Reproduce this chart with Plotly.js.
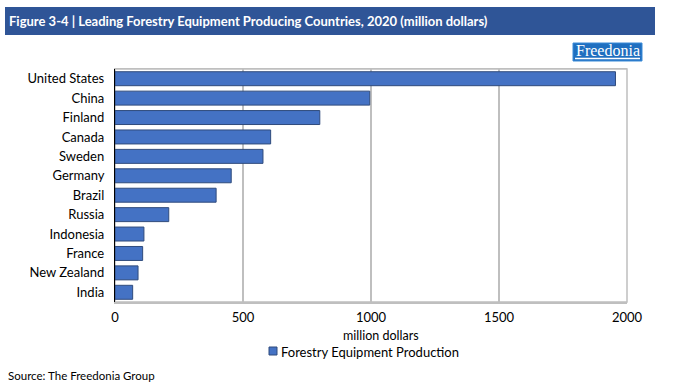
<!DOCTYPE html>
<html>
<head>
<meta charset="utf-8">
<script src="https://cdn.plot.ly/plotly-3.0.1.min.js"></script>
<style>
html,body{margin:0;padding:0;background:#fff;}
#chart{width:695px;height:385px;}
</style>
</head>
<body>
<div id="chart"></div>
<script>
const countries = ["United States","China","Finland","Canada","Sweden","Germany","Brazil","Russia","Indonesia","France","New Zealand","India"];
const production = [1955, 995, 800, 608, 578, 454, 395, 210, 113, 108, 90, 69];
const xTicks = [0, 500, 1000, 1500, 2000];
const seriesName = "Forestry Equipment Production";
const titleText = "Figure 3-4 | Leading Forestry Equipment Producing Countries, 2020 (million dollars)";
const axisTitle = "million dollars";
const sourceText = "Source: The Freedonia Group";

const FONT = "Lato, 'Open Sans', sans-serif";

const trace = {
  type: "bar",
  orientation: "h",
  y: countries,
  x: production,
  name: seriesName,
  marker: {color: "#4472C4", line: {color: "#2F4B7C", width: 1}},
  showlegend: false,
  hoverinfo: "x+y"
};

const layout = {
  width: 695, height: 385,
  margin: {l: 115, r: 68, t: 69, b: 83},
  paper_bgcolor: "#fff", plot_bgcolor: "#fff",
  bargap: 0.28,
  font: {family: FONT, size: 13, color: "#000"},
  xaxis: {
    range: [0, 2000], tickvals: xTicks, ticktext: xTicks.map(String),
    showgrid: true, gridcolor: "#BFBFBF", gridwidth: 1.5,
    zeroline: false, showline: true, linecolor: "#BFBFBF", linewidth: 1.5, mirror: true,
    ticks: "", ticklen: 0, ticklabelstandoff: 3,
    tickfont: {family: FONT, size: 13, color: "#000"},
    fixedrange: true
  },
  yaxis: {
    autorange: "reversed", showgrid: false, zeroline: false,
    showline: true, linecolor: "#000", linewidth: 1.5,
    ticks: "", ticksuffix: "  ", tickfont: {family: FONT, size: 13, color: "#000"},
    fixedrange: true
  },
  shapes: [
    {type: "rect", xref: "paper", yref: "paper", x0: 0, x1: 1, y0: 0, y1: 1,
     line: {color: "#BFBFBF", width: 1.5}, fillcolor: "rgba(0,0,0,0)", layer: "below"},
    // title banner
    {type: "rect", xref: "paper", yref: "paper",
     x0: -110/512, x1: 540/512, y0: 1 + 34/233, y1: 1 + 62/233,
     fillcolor: "#2F5597", line: {width: 0}},
    // logo
    {type: "rect", xref: "paper", yref: "paper",
     x0: 458/512, x1: 527/512, y0: 1 + 8/233, y1: 1 + 26/233,
     fillcolor: "#1F6FC0", line: {color: "#3A8BD8", width: 1}},
    {type: "line", xref: "paper", yref: "paper",
     x0: 460/512, x1: 525/512, y0: 1 + 10.5/233, y1: 1 + 10.5/233,
     line: {color: "#fff", width: 1.5}},
    // legend swatch
    {type: "rect", xref: "paper", yref: "paper",
     x0: 154/512, x1: 162/512, y0: -53/233, y1: -45/233,
     fillcolor: "#4472C4", line: {color: "#2F4B7C", width: 1}}
  ],
  annotations: [
    {xref: "paper", yref: "paper", x: -108/512, y: 1 + 48/233, xanchor: "left", yanchor: "middle",
     text: "<b>" + titleText + "</b>", showarrow: false,
     font: {family: FONT, size: 13, color: "#fff"}},
    {xref: "paper", yref: "paper", x: 492.5/512, y: 1 + 18.5/233, xanchor: "center", yanchor: "middle",
     text: "Freedonia", showarrow: false,
     font: {family: "'Liberation Serif', 'DejaVu Serif', serif", size: 16, color: "#fff"}},
    {xref: "paper", yref: "paper", x: 266/512, y: -33/233, xanchor: "center", yanchor: "middle",
     text: axisTitle, showarrow: false, font: {family: FONT, size: 12.5, color: "#000"}},
    {xref: "paper", yref: "paper", x: 164/512, y: -49.5/233, xanchor: "left", yanchor: "middle",
     text: seriesName, showarrow: false, font: {family: FONT, size: 13, color: "#000"}},
    {xref: "paper", yref: "paper", x: -109/512, y: -73/233, xanchor: "left", yanchor: "middle",
     text: sourceText, showarrow: false, font: {family: FONT, size: 11.5, color: "#000"}}
  ]
};

Plotly.newPlot("chart", [trace], layout, {displayModeBar: false, staticPlot: true});
</script>
</body>
</html>
